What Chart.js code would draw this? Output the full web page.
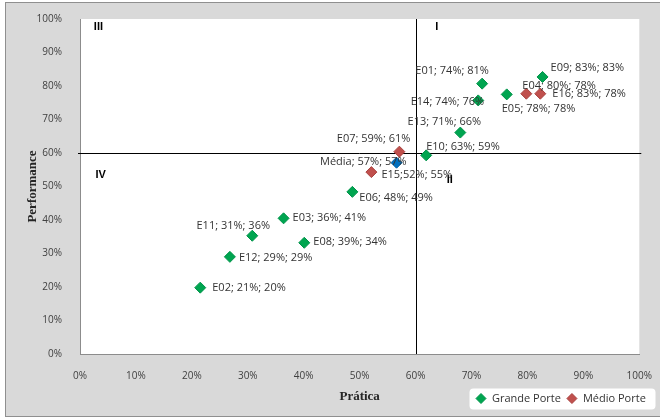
<!DOCTYPE html>
<html>
<head>
<meta charset="utf-8">
<script src="https://cdn.jsdelivr.net/npm/chart.js@4.4.1/dist/chart.umd.min.js"></script>
<style>
  body { margin: 0; background: #fff; }
  #wrap { width: 660px; height: 420px; }
</style>
</head>
<body>
<div id="wrap"><canvas id="quadChart" width="660" height="420"></canvas></div>
<script>
// Grande Porte
const grandeNames = ['E01', 'E02', 'E03', 'E05', 'E06', 'E08', 'E09', 'E10', 'E11', 'E12', 'E13', 'E14'];
const grandePratica = [71.9, 21.5, 36.4, 76.3, 48.7, 40.1, 82.7, 61.9, 30.8, 26.8, 68.0, 71.2];
const grandePerf = [80.7, 19.8, 40.5, 77.5, 48.4, 33.2, 82.7, 59.3, 35.3, 29.0, 66.1, 75.7];
const grandeLabels = ['E01; 74%; 81%', 'E02; 21%; 20%', 'E03; 36%; 41%', 'E05; 78%; 78%', 'E06; 48%; 49%',
  'E08; 39%; 34%', 'E09; 83%; 83%', 'E10; 63%; 59%', 'E11; 31%; 36%', 'E12; 29%; 29%', 'E13; 71%; 66%', 'E14; 74%; 76%'];

// Médio Porte
const medioNames = ['E04', 'E07', 'E15', 'E16'];
const medioPratica = [79.8, 57.1, 52.1, 82.3];
const medioPerf = [77.7, 60.4, 54.3, 77.7];
const medioLabels = ['E04; 80%; 78%', 'E07; 59%; 61%', 'E15;52%; 55%', 'E16; 83%; 78%'];

// Média
const mediaNames = ['Média'];
const mediaPratica = [56.6];
const mediaPerf = [57.1];
const mediaLabels = ['Média; 57%; 57%'];

const xTicks = [0, 10, 20, 30, 40, 50, 60, 70, 80, 90, 100];
const yTicks = [0, 10, 20, 30, 40, 50, 60, 70, 80, 90, 100];
const cutX = 60;
const cutY = 60;

// quadrant numerals (data coords)
const quadrants = [
  { text: 'III', x: 3.3, y: 97.6 },
  { text: 'I', x: 63.8, y: 97.6 },
  { text: 'IV', x: 3.7, y: 53.4 },
  { text: 'II', x: 66.1, y: 51.9 }
];

// where each data label sits relative to its marker: [dx, dy, align]
const labelPlace = {
  E01: [-30, -13, 'center'], E02: [12, 0, 'left'], E03: [9, 0, 'left'], E05: [-5, 14, 'left'],
  E06: [7, 6, 'left'], E08: [9, -1, 'left'], E09: [8, -9, 'left'], E10: [0, -8, 'left'],
  E11: [-19, -10, 'center'], E12: [9, 1, 'left'], E13: [-16, -11, 'center'], E14: [6, 1, 'right'],
  E04: [-4, -8, 'left'], E07: [11, -13, 'right'], E15: [10, 3, 'left'], E16: [12, 0, 'left'],
  'Média': [10, -1, 'right']
};

const toPoints = (xs, ys) => xs.map((x, i) => ({ x: x, y: ys[i] }));

const frame = {
  id: 'frame',
  beforeDraw(chart) {
    const { ctx, chartArea } = chart;
    ctx.save();
    ctx.fillStyle = '#ffffff';
    ctx.fillRect(0, 0, chart.width, chart.height);
    ctx.fillStyle = '#d9d9d9';
    ctx.fillRect(5, 2, chart.width - 5, chart.height - 5);
    ctx.strokeStyle = '#8f8f8f';
    ctx.lineWidth = 1;
    ctx.strokeRect(5.5, 2.5, chart.width, chart.height - 6);
    ctx.fillStyle = '#ffffff';
    ctx.fillRect(chartArea.left, chartArea.top, chartArea.right - chartArea.left, chartArea.bottom - chartArea.top);
    ctx.restore();
  }
};

const quadLines = {
  id: 'quadLines',
  beforeDatasetsDraw(chart) {
    const { ctx, chartArea, scales } = chart;
    const px = Math.round(scales.x.getPixelForValue(cutX)) + 0.5;
    const py = Math.round(scales.y.getPixelForValue(cutY)) + 0.5;
    ctx.save();
    ctx.strokeStyle = '#000000';
    ctx.lineWidth = 1;
    ctx.beginPath();
    ctx.moveTo(px, chartArea.top);
    ctx.lineTo(px, chartArea.bottom);
    ctx.moveTo(chartArea.left - 2, py);
    ctx.lineTo(chartArea.right + 2, py);
    ctx.stroke();
    ctx.font = 'bold 11px "Liberation Sans", Arial, sans-serif';
    ctx.fillStyle = '#000000';
    ctx.textAlign = 'center';
    ctx.textBaseline = 'middle';
    quadrants.forEach(q => {
      ctx.fillText(q.text, scales.x.getPixelForValue(q.x), scales.y.getPixelForValue(q.y));
    });
    ctx.restore();
  }
};

const pointLabels = {
  id: 'pointLabels',
  afterDatasetsDraw(chart) {
    const { ctx } = chart;
    ctx.save();
    ctx.font = '11px "Open Sans", sans-serif';
    ctx.fillStyle = '#333333';
    ctx.textBaseline = 'middle';
    chart.data.datasets.forEach((ds, i) => {
      const meta = chart.getDatasetMeta(i);
      meta.data.forEach((el, j) => {
        const place = labelPlace[ds.names[j]] || [8, 0, 'left'];
        ctx.textAlign = place[2];
        ctx.fillText(ds.pointLabels[j], el.x + place[0], el.y + place[1]);
      });
    });
    ctx.restore();
  }
};

const boxLegend = {
  id: 'boxLegend',
  afterDraw(chart) {
    const { ctx } = chart;
    const items = chart.data.datasets.filter(ds => ds.inLegend);
    ctx.save();
    ctx.fillStyle = '#ffffff';
    ctx.beginPath();
    ctx.roundRect(469.5, 388.5, 186, 21, 4);
    ctx.fill();
    ctx.font = '11px "Open Sans", sans-serif';
    ctx.textBaseline = 'middle';
    ctx.textAlign = 'left';
    let x = 481;
    const y = 398.5;
    items.forEach(ds => {
      ctx.fillStyle = ds.backgroundColor;
      ctx.strokeStyle = ds.borderColor;
      ctx.beginPath();
      ctx.moveTo(x, y - 5);
      ctx.lineTo(x + 5, y);
      ctx.lineTo(x, y + 5);
      ctx.lineTo(x - 5, y);
      ctx.closePath();
      ctx.fill();
      ctx.stroke();
      ctx.fillStyle = '#333333';
      ctx.fillText(ds.label, x + 11, y);
      x += ctx.measureText(ds.label).width + 22;
    });
    ctx.restore();
  }
};

const ctx = document.getElementById('quadChart').getContext('2d');
new Chart(ctx, {
  type: 'scatter',
  data: {
    datasets: [
      {
        label: 'Grande Porte',
        names: grandeNames,
        pointLabels: grandeLabels,
        inLegend: true,
        data: toPoints(grandePratica, grandePerf),
        pointStyle: 'rectRot',
        radius: 5.5,
        backgroundColor: '#00a550',
        borderColor: '#00934a',
        borderWidth: 1
      },
      {
        label: 'Médio Porte',
        names: medioNames,
        pointLabels: medioLabels,
        inLegend: true,
        data: toPoints(medioPratica, medioPerf),
        pointStyle: 'rectRot',
        radius: 5.5,
        backgroundColor: '#c0504d',
        borderColor: '#a9423f',
        borderWidth: 1
      },
      {
        label: 'Média',
        names: mediaNames,
        pointLabels: mediaLabels,
        inLegend: false,
        data: toPoints(mediaPratica, mediaPerf),
        pointStyle: 'rectRot',
        radius: 5.5,
        backgroundColor: '#0070c0',
        borderColor: '#0062a8',
        borderWidth: 1
      }
    ]
  },
  options: {
    responsive: false,
    animation: false,
    layout: { padding: { top: 19, right: 18, bottom: 0, left: 0 } },
    scales: {
      x: {
        type: 'linear',
        min: 0,
        max: 100,
        afterBuildTicks: s => { s.ticks = xTicks.map(v => ({ value: v })); },
        afterFit: s => { s.height = 66; },
        grid: { display: false },
        border: { display: true, color: '#8c8c8c' },
        ticks: {
          padding: 8,
          color: '#404040',
          font: { family: '"Open Sans", sans-serif', size: 10 },
          callback: v => v + '%'
        },
        title: {
          display: true,
          text: 'Prática',
          color: '#262626',
          font: { family: '"Liberation Serif", "Times New Roman", serif', size: 13, weight: 'bold' },
          padding: { top: 0, bottom: 16 }
        }
      },
      y: {
        type: 'linear',
        min: 0,
        max: 100,
        afterBuildTicks: s => { s.ticks = yTicks.map(v => ({ value: v })); },
        afterFit: s => { s.width = 80; },
        grid: { display: false },
        border: { display: true, color: '#8c8c8c' },
        ticks: {
          padding: 10,
          color: '#404040',
          font: { family: '"Open Sans", sans-serif', size: 10 },
          callback: v => v + '%'
        },
        title: {
          display: true,
          text: 'Performance',
          color: '#262626',
          font: { family: '"Liberation Serif", "Times New Roman", serif', size: 13, weight: 'bold' },
          padding: { top: 25, bottom: 0 }
        }
      }
    },
    plugins: {
      legend: { display: false },
      tooltip: { enabled: false }
    }
  },
  plugins: [frame, quadLines, pointLabels, boxLegend]
});
</script>
</body>
</html>
